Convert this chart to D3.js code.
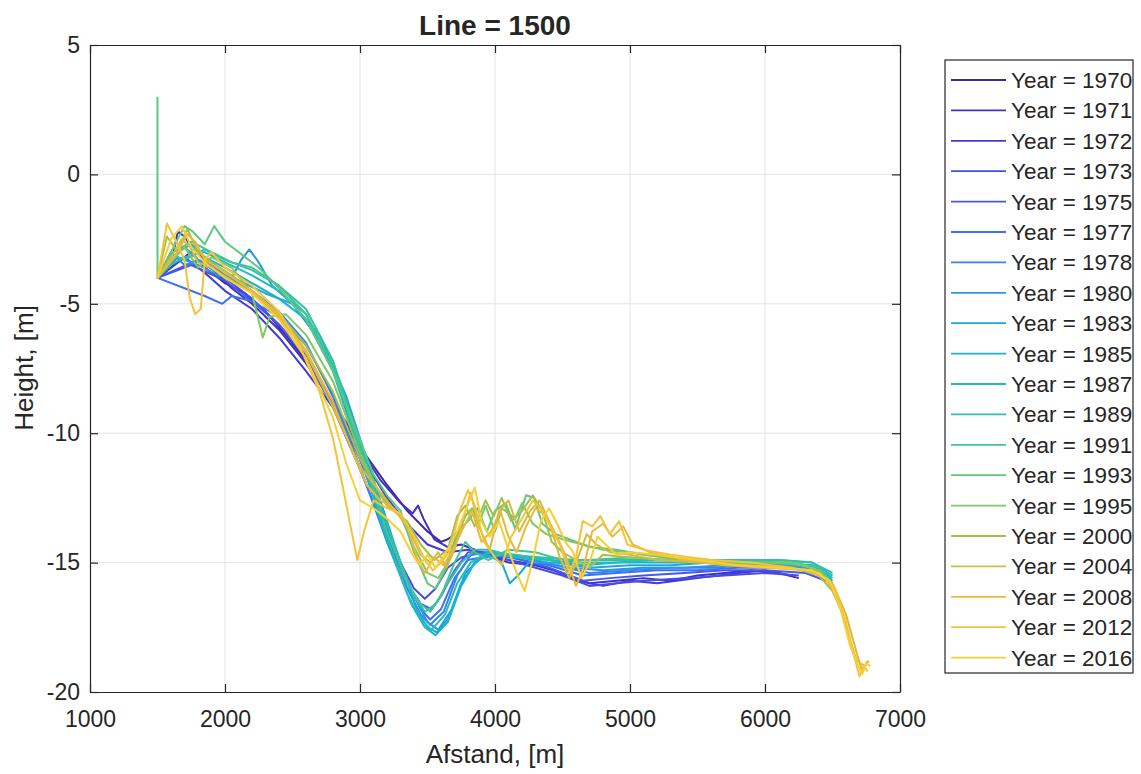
<!DOCTYPE html>
<html>
<head>
<meta charset="utf-8">
<script src="https://cdn.jsdelivr.net/npm/d3@7"></script>
<style>
  body { margin: 0; background: #fff; }
  svg text { font-family: 'Liberation Sans', Arial, Helvetica, sans-serif; fill: #262626; }
</style>
</head>
<body>
<svg id="chart" width="1141" height="774"></svg>
<script>
'use strict';

// --- data: [afstand (m), height (m)] ---
var years = [1970, 1971, 1972, 1973, 1975, 1977, 1978, 1980, 1983, 1985,
  1987, 1989, 1991, 1993, 1995, 2000, 2004, 2008, 2012, 2016];

var yearColors = ['#3e26a8', '#4230bf', '#4539d2', '#474ce6', '#4558ee', '#3c6ff3', '#3384ee', '#2a96e4', '#1ea8d8', '#17b4cb',
  '#22bcbc', '#30c0a8', '#44c494', '#5cc880', '#80c766', '#a6bf4c', '#d4bb3e', '#ebb93a', '#f3c43a', '#f6cf35'];

var xTicks = [1000, 2000, 3000, 4000, 5000, 6000, 7000];
var yTicks = [-20, -15, -10, -5, 0, 5];

var p1970 = [[1500, -4], [1650, -3.4], [1750, -3.0], [1850, -3.6], [2000, -4.2], [2150, -4.6], [2300, -5.3], [2450, -6.2],
  [2600, -7.2], [2750, -8.4], [2900, -9.6], [3050, -10.9], [3200, -12.0], [3350, -13.0], [3500, -13.8], [3600, -14.2],
  [3650, -14.1], [3730, -13.8]];
var p1971 = [[1500, -4], [1620, -3.0], [1650, -2.2], [1700, -2.4], [1750, -2.8], [1900, -3.6], [2050, -4.4], [2200, -5.0],
  [2400, -6.0], [2600, -7.3], [2800, -8.8], [3000, -10.6], [3150, -11.8], [3300, -12.7], [3390, -13.1], [3430, -12.8],
  [3470, -13.3], [3550, -14.1], [3650, -14.4], [3750, -14.3], [3900, -14.6], [4100, -15.0], [4300, -15.1], [4500, -15.4],
  [4700, -15.8], [4900, -15.7], [5100, -15.6], [5300, -15.7], [5500, -15.5], [5700, -15.4], [5900, -15.3], [6100, -15.4],
  [6250, -15.6]];
var p1972 = [[1500, -4], [1700, -3.2], [1850, -3.8], [2000, -4.5], [2200, -5.2], [2400, -6.3], [2600, -7.6], [2800, -9.0],
  [3000, -10.8], [3200, -12.5], [3350, -13.5], [3500, -14.3], [3650, -14.6], [3800, -14.5], [4000, -14.8], [4200, -15.0],
  [4400, -15.2], [4600, -15.7], [4800, -15.9], [5000, -15.7], [5200, -15.8], [5500, -15.6], [5800, -15.4], [6000, -15.3],
  [6200, -15.5]];
var p1973 = [[1500, -4], [1800, -3.3], [2000, -4.0], [2200, -4.8], [2400, -5.8], [2600, -7.0], [2800, -8.8], [3000, -11.0],
  [3150, -13.0], [3300, -15.0], [3400, -16.0], [3480, -16.4], [3560, -16.0], [3650, -15.2], [3750, -14.8], [3900, -14.6],
  [4100, -14.9], [4300, -15.2], [4500, -15.5], [4700, -15.9], [4900, -15.8], [5100, -15.7], [5400, -15.6], [5700, -15.5],
  [6000, -15.4], [6250, -15.5]];
var p1975 = [[1500, -4], [1750, -3.5], [2000, -4.1], [2200, -4.9], [2400, -5.8], [2600, -7.1], [2800, -9.0], [3000, -11.4],
  [3200, -14.0], [3350, -15.8], [3450, -16.6], [3530, -16.8], [3600, -16.3], [3700, -15.3], [3800, -14.6], [4000, -14.6],
  [4200, -14.9], [4400, -15.2], [4650, -15.7], [4850, -15.6], [5100, -15.5], [5400, -15.4], [5700, -15.3], [6000, -15.3],
  [6300, -15.4], [6450, -15.7]];
var p1977 = [[1500, -4], [1850, -4.7], [1980, -5.0], [2050, -4.7], [2200, -4.9], [2400, -5.5], [2600, -6.6], [2800, -8.5],
  [3000, -11.0], [3200, -13.8], [3350, -15.7], [3450, -16.8], [3520, -17.2], [3600, -16.8], [3700, -15.6], [3800, -14.9],
  [4000, -14.7], [4200, -14.9], [4400, -15.1], [4650, -15.5], [4900, -15.4], [5200, -15.3], [5500, -15.3], [5800, -15.2],
  [6100, -15.2], [6350, -15.3], [6480, -15.8]];
var p1978 = [[1500, -4], [1600, -3.0], [1700, -3.5], [1850, -3.3], [2000, -3.9], [2200, -4.5], [2400, -5.3], [2600, -6.5],
  [2800, -8.6], [3000, -11.3], [3200, -14.2], [3350, -16.0], [3450, -17.0], [3520, -17.4], [3620, -16.9], [3720, -15.5],
  [3820, -14.7], [4000, -14.6], [4200, -14.8], [4450, -15.1], [4700, -15.4], [5000, -15.3], [5300, -15.2], [5600, -15.2],
  [5900, -15.1], [6200, -15.2], [6400, -15.4], [6500, -15.9]];
var p1980 = [[1500, -4], [1650, -3.2], [1800, -3.5], [1950, -3.9], [2050, -4.0], [2120, -3.3], [2180, -2.9], [2250, -3.4],
  [2350, -4.3], [2500, -5.0], [2700, -6.4], [2900, -8.8], [3100, -11.8], [3250, -14.3], [3400, -16.3], [3500, -17.3],
  [3580, -17.6], [3680, -16.8], [3780, -15.4], [3900, -14.8], [4100, -14.7], [4300, -14.9], [4550, -15.2], [4800, -15.3],
  [5100, -15.2], [5400, -15.2], [5700, -15.1], [6000, -15.1], [6300, -15.2], [6450, -15.5], [6500, -15.9]];
var p1983 = [[1500, -4], [1600, -3.3], [1700, -2.8], [1800, -3.3], [1950, -3.8], [2100, -4.1], [2300, -4.6], [2500, -5.0],
  [2700, -6.2], [2900, -8.6], [3100, -11.8], [3300, -15.0], [3420, -16.8], [3500, -17.5], [3570, -17.7], [3650, -17.2],
  [3750, -15.8], [3850, -15.0], [3950, -14.7], [4050, -15.0], [4110, -15.8], [4170, -15.5], [4250, -15.0], [4450, -15.0],
  [4700, -15.2], [5000, -15.1], [5300, -15.1], [5600, -15.0], [5900, -15.0], [6200, -15.1], [6400, -15.3], [6500, -15.7]];
var p1985 = [[1500, -4], [1650, -3.0], [1750, -2.7], [1850, -3.2], [2000, -3.6], [2200, -4.2], [2400, -4.8], [2600, -5.6],
  [2800, -7.6], [3000, -10.8], [3200, -14.2], [3380, -16.6], [3480, -17.5], [3560, -17.8], [3650, -17.3], [3750, -15.9],
  [3850, -15.0], [3950, -14.6], [4150, -14.7], [4400, -14.9], [4650, -15.1], [4900, -15.0], [5200, -15.0], [5500, -15.0],
  [5800, -14.9], [6100, -15.0], [6350, -15.1], [6500, -15.6]];
var p1987 = [[1500, -4], [1600, -3.5], [1700, -3.2], [1850, -3.0], [2000, -3.4], [2200, -3.9], [2400, -4.5], [2600, -5.4],
  [2800, -7.4], [3000, -10.6], [3200, -14.0], [3350, -16.2], [3450, -17.2], [3530, -17.6], [3630, -17.0], [3720, -15.8],
  [3820, -15.0], [3950, -14.6], [4150, -14.8], [4400, -14.9], [4650, -15.0], [4900, -15.0], [5200, -14.9], [5500, -15.0],
  [5800, -14.9], [6100, -14.9], [6350, -15.0], [6500, -15.5]];
var p1989 = [[1500, -4], [1600, -3.1], [1700, -3.3], [1850, -2.9], [2000, -3.3], [2200, -3.7], [2400, -4.3], [2600, -5.2],
  [2800, -7.2], [3000, -10.4], [3150, -12.8], [3300, -15.0], [3400, -16.3], [3480, -16.9], [3560, -16.6], [3650, -15.8],
  [3750, -15.0], [3850, -14.5], [3950, -14.5], [4100, -14.7], [4350, -14.8], [4600, -14.9], [4900, -14.9], [5200, -14.9],
  [5500, -14.9], [5800, -14.9], [6100, -14.9], [6350, -15.0], [6500, -15.4]];
var p1991 = [[1500, -4], [1620, -3.0], [1750, -2.6], [1900, -3.0], [2050, -3.4], [2200, -3.6], [2400, -4.3], [2600, -5.4],
  [2800, -7.4], [3000, -10.6], [3200, -13.8], [3350, -15.8], [3450, -16.6], [3520, -16.9], [3600, -16.3], [3700, -15.0],
  [3780, -14.2], [3850, -14.6], [3950, -14.9], [4100, -14.5], [4300, -14.6], [4500, -14.9], [4700, -14.9], [5000, -14.8],
  [5300, -14.9], [5600, -15.0], [5900, -15.0], [6200, -15.0], [6400, -15.2], [6500, -15.8]];
var p1993 = [[1500, 3.0], [1500, -4], [1620, -2.8], [1700, -2.0], [1760, -2.2], [1850, -2.7], [1920, -2.0], [2000, -2.6],
  [2100, -3.0], [2250, -3.6], [2400, -4.4], [2600, -5.6], [2800, -7.6], [2950, -9.6], [3100, -11.6], [3200, -12.4],
  [3300, -13.0], [3400, -14.6], [3500, -15.8], [3560, -16.0], [3640, -15.2], [3720, -13.8], [3800, -13.4], [3870, -12.9],
  [3940, -13.8], [4000, -13.0], [4080, -12.7], [4150, -13.7], [4230, -12.4], [4290, -12.5], [4350, -13.5], [4450, -13.9],
  [4550, -14.1], [4700, -14.4], [4900, -14.5], [5100, -14.7], [5400, -14.9], [5700, -15.0], [6000, -15.0], [6300, -15.1],
  [6450, -15.5], [6500, -16.0]];
var p1995 = [[1500, -4], [1600, -3.4], [1700, -2.8], [1800, -3.6], [1900, -3.2], [2050, -3.6], [2200, -4.6], [2280, -6.3],
  [2330, -5.5], [2450, -5.4], [2600, -6.2], [2800, -8.0], [3000, -10.8], [3150, -12.4], [3300, -13.2], [3400, -14.4],
  [3500, -15.4], [3580, -15.6], [3650, -15.0], [3720, -14.0], [3780, -13.2], [3830, -12.9], [3880, -13.5], [3930, -12.8],
  [4000, -13.8], [4050, -12.9], [4150, -13.3], [4200, -12.7], [4280, -13.5], [4380, -13.9], [4500, -14.1], [4650, -14.3],
  [4800, -14.5], [5000, -14.6], [5300, -14.8], [5600, -14.9], [5900, -15.0], [6200, -15.0], [6400, -15.3], [6500, -16.0],
  [6550, -16.6]];
var p2000 = [[1500, -4], [1570, -2.4], [1650, -3.0], [1720, -2.1], [1800, -3.0], [1900, -3.4], [2050, -3.9], [2200, -4.5],
  [2400, -5.4], [2600, -6.6], [2800, -8.4], [3000, -11.0], [3200, -12.8], [3350, -13.4], [3450, -14.3], [3550, -14.9],
  [3650, -14.5], [3720, -13.2], [3780, -12.8], [3850, -13.6], [3930, -12.6], [3990, -13.2], [4050, -12.5], [4120, -13.4],
  [4200, -13.0], [4280, -12.4], [4350, -13.0], [4420, -14.2], [4500, -14.6], [4600, -14.9], [4700, -15.2], [4800, -14.7],
  [5000, -14.8], [5300, -14.9], [5600, -15.0], [5900, -15.1], [6200, -15.2], [6400, -15.5], [6500, -16.1], [6560, -16.8],
  [6600, -17.4]];
var p2004 = [[1500, -4], [1600, -3.2], [1680, -2.5], [1740, -2.8], [1800, -3.4], [1900, -3.6], [2050, -4.1], [2200, -4.6],
  [2400, -5.5], [2600, -6.9], [2800, -9.0], [3000, -11.3], [3200, -12.6], [3350, -13.6], [3450, -14.7], [3520, -15.0],
  [3580, -14.6], [3640, -15.2], [3700, -14.5], [3760, -13.4], [3820, -12.3], [3880, -13.6], [3960, -14.5], [4030, -13.0],
  [4100, -12.6], [4180, -13.8], [4260, -13.0], [4330, -12.6], [4400, -13.4], [4480, -14.8], [4550, -15.6], [4600, -15.0],
  [4680, -13.9], [4750, -14.3], [4850, -14.6], [5000, -14.7], [5200, -14.9], [5500, -15.0], [5800, -15.1], [6100, -15.2],
  [6350, -15.3], [6500, -15.8], [6600, -17.0], [6680, -18.5], [6720, -19.2], [6760, -18.8]];
var p2008 = [[1500, -4], [1650, -3.0], [1720, -2.3], [1780, -2.6], [1850, -3.3], [2000, -3.8], [2200, -4.5], [2400, -5.4],
  [2600, -6.8], [2800, -8.8], [2950, -10.8], [3050, -12.0], [3150, -12.6], [3250, -12.9], [3350, -13.5], [3420, -14.8],
  [3480, -15.4], [3550, -14.8], [3620, -15.1], [3700, -14.4], [3760, -13.7], [3830, -13.0], [3900, -14.2], [3970, -13.8],
  [4040, -13.0], [4100, -14.0], [4160, -14.6], [4230, -13.6], [4300, -12.9], [4380, -13.2], [4450, -13.9], [4520, -14.7],
  [4600, -15.9], [4650, -15.3], [4720, -13.8], [4800, -13.5], [4870, -14.0], [4950, -13.6], [5020, -14.3], [5150, -14.6],
  [5400, -14.9], [5700, -15.1], [6000, -15.2], [6300, -15.3], [6450, -15.6], [6550, -16.5], [6620, -17.8], [6680, -18.8],
  [6740, -19.0], [6770, -18.8]];
var p2012 = [[1500, -4], [1570, -1.9], [1640, -2.6], [1700, -3.3], [1740, -4.8], [1780, -5.4], [1820, -5.2], [1850, -3.3],
  [1900, -3.0], [2000, -3.6], [2200, -4.3], [2400, -5.3], [2550, -6.6], [2700, -8.4], [2800, -10.2], [2870, -12.0],
  [2930, -13.6], [2980, -14.9], [3030, -13.8], [3100, -12.6], [3200, -12.9], [3300, -13.1], [3400, -14.0], [3480, -14.9],
  [3540, -15.3], [3600, -15.0], [3660, -14.6], [3740, -13.0], [3800, -12.2], [3850, -12.8], [3920, -14.2], [4000, -14.8],
  [4050, -15.1], [4120, -14.0], [4200, -13.3], [4280, -12.6], [4350, -13.0], [4420, -13.7], [4480, -14.3], [4550, -15.4],
  [4600, -14.8], [4650, -13.4], [4720, -13.6], [4780, -13.2], [4850, -13.9], [4920, -13.4], [4980, -14.3], [5100, -14.5],
  [5300, -14.7], [5600, -14.9], [5900, -15.0], [6200, -15.2], [6400, -15.4], [6520, -16.0], [6600, -17.3], [6660, -18.6],
  [6700, -19.4], [6730, -19.0], [6760, -19.2]];
var p2016 = [[1500, -4], [1600, -2.5], [1680, -2.0], [1750, -2.8], [1850, -3.4], [2000, -4.0], [2200, -4.6], [2400, -5.6],
  [2600, -7.1], [2800, -9.4], [2900, -11.2], [3000, -12.6], [3100, -12.9], [3200, -13.3], [3300, -13.8], [3380, -14.6],
  [3440, -15.1], [3500, -14.7], [3560, -15.2], [3640, -14.6], [3720, -13.8], [3780, -13.0], [3850, -12.1], [3900, -13.4],
  [3960, -14.0], [4030, -13.4], [4100, -14.5], [4160, -15.4], [4220, -16.1], [4280, -14.9], [4340, -13.4], [4400, -12.9],
  [4460, -13.5], [4520, -14.2], [4580, -14.6], [4640, -15.6], [4700, -15.0], [4760, -14.0], [4820, -14.3], [4900, -14.7],
  [5000, -14.6], [5200, -14.7], [5500, -14.9], [5800, -15.1], [6100, -15.2], [6350, -15.3], [6480, -15.7], [6560, -16.8],
  [6630, -18.2], [6690, -19.0], [6720, -19.3], [6750, -18.9], [6780, -19.0]];

var profiles = [p1970, p1971, p1972, p1973, p1975, p1977, p1978, p1980, p1983, p1985,
  p1987, p1989, p1991, p1993, p1995, p2000, p2004, p2008, p2012, p2016];

// --- layout ---
var plotLeft = 90;
var plotRight = 900;
var plotTop = 45;
var plotBottom = 692;
var tickLength = 8;
var axisColor = '#262626';
var gridColor = '#e3e3e3';

var legendX = 945;
var legendY = 60;
var legendWidth = 188;
var legendHeight = 613;
var legendRowStart = 80;
var legendRowSpacing = 30.4;

var svg = d3.select('#chart');

var x = d3.scaleLinear().domain([1000, 7000]).range([plotLeft, plotRight]);
var y = d3.scaleLinear().domain([-20, 5]).range([plotBottom, plotTop]);

// grid
svg.append('g').selectAll('line').data(xTicks.slice(1, -1)).enter().append('line')
  .attr('x1', function (d) { return x(d); }).attr('x2', function (d) { return x(d); })
  .attr('y1', plotTop).attr('y2', plotBottom)
  .attr('stroke', gridColor).attr('stroke-width', 1);
svg.append('g').selectAll('line').data(yTicks.slice(1, -1)).enter().append('line')
  .attr('y1', function (d) { return y(d); }).attr('y2', function (d) { return y(d); })
  .attr('x1', plotLeft).attr('x2', plotRight)
  .attr('stroke', gridColor).attr('stroke-width', 1);

// profiles
svg.append('clipPath').attr('id', 'plotClip').append('rect')
  .attr('x', plotLeft).attr('y', plotTop)
  .attr('width', plotRight - plotLeft).attr('height', plotBottom - plotTop);

var line = d3.line()
  .x(function (d) { return x(d[0]); })
  .y(function (d) { return y(d[1]); });

svg.append('g').attr('clip-path', 'url(#plotClip)')
  .selectAll('path').data(profiles).enter().append('path')
  .attr('d', line)
  .attr('fill', 'none')
  .attr('stroke', function (d, i) { return yearColors[i]; })
  .attr('stroke-width', 2)
  .attr('stroke-linejoin', 'round');

// axes: bottom/left with labels, top/right plain; ticks point inward
var xAxisBottom = d3.axisBottom(x).tickValues(xTicks).tickSizeInner(-tickLength).tickSizeOuter(0).tickPadding(19)
  .tickFormat(function (d) { return String(d); });
var xAxisTop = d3.axisTop(x).tickValues(xTicks).tickSizeInner(-tickLength).tickSizeOuter(0).tickFormat('');
var yAxisLeft = d3.axisLeft(y).tickValues(yTicks).tickSizeInner(-tickLength).tickSizeOuter(0).tickPadding(10)
  .tickFormat(function (d) { return String(d); });
var yAxisRight = d3.axisRight(y).tickValues(yTicks).tickSizeInner(-tickLength).tickSizeOuter(0).tickFormat('');

function styleAxis(g) {
  g.select('.domain').attr('stroke', axisColor).attr('stroke-width', 1.2);
  g.selectAll('.tick line').attr('stroke', axisColor).attr('stroke-width', 1.2);
  g.selectAll('.tick text').attr('fill', axisColor).style('font-size', '23px')
    .style('font-family', "'Liberation Sans', Arial, sans-serif");
}

svg.append('g').attr('transform', 'translate(0,' + plotBottom + ')').call(xAxisBottom).call(styleAxis);
svg.append('g').attr('transform', 'translate(0,' + plotTop + ')').call(xAxisTop).call(styleAxis);
svg.append('g').attr('transform', 'translate(' + plotLeft + ',0)').call(yAxisLeft).call(styleAxis);
svg.append('g').attr('transform', 'translate(' + plotRight + ',0)').call(yAxisRight).call(styleAxis);

// titles
svg.append('text').attr('x', (plotLeft + plotRight) / 2).attr('y', 35)
  .attr('text-anchor', 'middle').style('font-size', '28px').style('font-weight', 'bold')
  .text('Line = 1500');
svg.append('text').attr('x', (plotLeft + plotRight) / 2).attr('y', 763)
  .attr('text-anchor', 'middle').style('font-size', '26px')
  .text('Afstand, [m]');
svg.append('text').attr('transform', 'translate(33,368) rotate(-90)')
  .attr('text-anchor', 'middle').style('font-size', '26px')
  .text('Height, [m]');

// legend
var legend = svg.append('g');
legend.append('rect').attr('x', legendX).attr('y', legendY)
  .attr('width', legendWidth).attr('height', legendHeight)
  .attr('fill', '#fff').attr('stroke', axisColor).attr('stroke-width', 1.2);

var rows = legend.selectAll('g.row').data(years).enter().append('g').attr('class', 'row')
  .attr('transform', function (d, i) { return 'translate(0,' + (legendRowStart + i * legendRowSpacing) + ')'; });
rows.append('line').attr('x1', 951).attr('x2', 1006).attr('y1', 0).attr('y2', 0)
  .attr('stroke', function (d, i) { return yearColors[i]; }).attr('stroke-width', 1.8);
rows.append('text').attr('x', 1011).attr('y', 8).style('font-size', '22.5px')
  .text(function (d) { return 'Year = ' + d; });
</script>
</body>
</html>
